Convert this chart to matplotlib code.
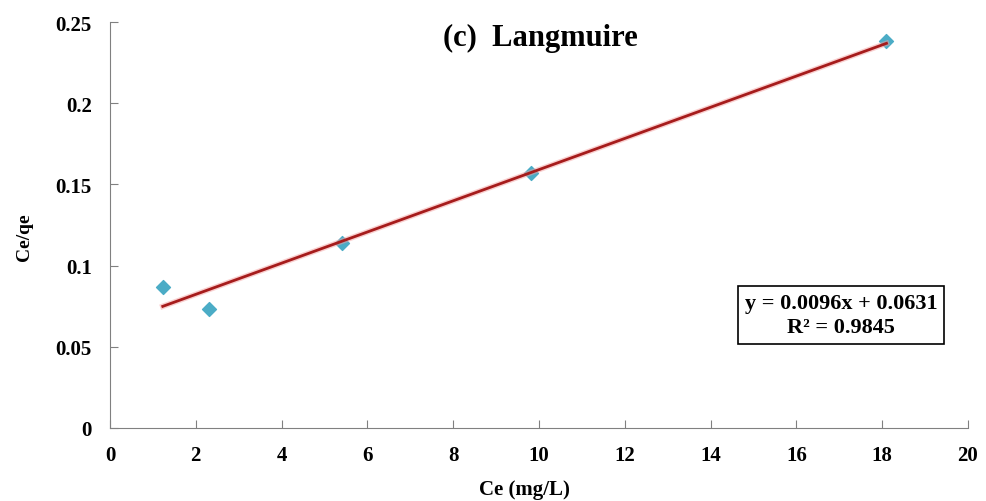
import matplotlib.pyplot as plt
import numpy as np

plt.rcParams['font.family'] = ['Liberation Serif', 'DejaVu Serif']
plt.rcParams['font.weight'] = 'bold'

# data
ce = [1.23, 2.3, 5.4, 9.82, 18.1]
ce_qe = [0.087, 0.0735, 0.114, 0.157, 0.238]
slope = 0.0096
intercept = 0.0631

fig = plt.figure(figsize=(9.87, 5.02), dpi=100)
ax = fig.add_axes([110 / 987, 1 - 429 / 502, (968 - 110) / 987, (429 - 23) / 502])

ax.scatter(ce, ce_qe, marker='D', s=50, color='#4bacc6', zorder=2)
xfit = np.array([min(ce), max(ce)])
ax.plot(xfit, slope * xfit + intercept, color='#f4a0a0', lw=4, alpha=0.5, zorder=3)
ax.plot(xfit, slope * xfit + intercept, color='#a61c1c', lw=2, zorder=3)

ax.set_xlim(0, 20)
ax.set_ylim(0, 0.25)
ax.set_xticks(np.arange(0, 21, 2))
ax.set_yticks([0, 0.05, 0.1, 0.15, 0.2, 0.25])
ax.set_yticklabels(['0', '0.05', '0.1', '0.15', '0.2', '0.25'])
ax.tick_params(direction='in', length=6, color='#808080', labelsize=15)
ax.tick_params(axis='y', pad=13)
ax.tick_params(axis='x', pad=12)
for s in ['top', 'right']:
    ax.spines[s].set_visible(False)
for s in ['left', 'bottom']:
    ax.spines[s].set_color('#808080')

ax.set_xlabel('Ce (mg/L)', fontsize=15, fontweight='bold')
ax.set_ylabel('Ce/qe', fontsize=14, fontweight='bold')
ax.xaxis.set_label_coords(0.483, -0.126)
ax.yaxis.set_label_coords(-0.09, 0.473)
ax.text(0.502, 0.962, '(c)  Langmuire', transform=ax.transAxes, ha='center', va='center',
        fontsize=22, fontweight='bold')
ax.text(0.852, 0.278, 'y = 0.0096x + 0.0631\nR² = 0.9845', transform=ax.transAxes,
        ha='center', va='center', fontsize=16, fontweight='bold', linespacing=1.3,
        bbox=dict(boxstyle='square,pad=0.3', fc='white', ec='black', lw=1.2))

fig.savefig('out.png', dpi=100)
